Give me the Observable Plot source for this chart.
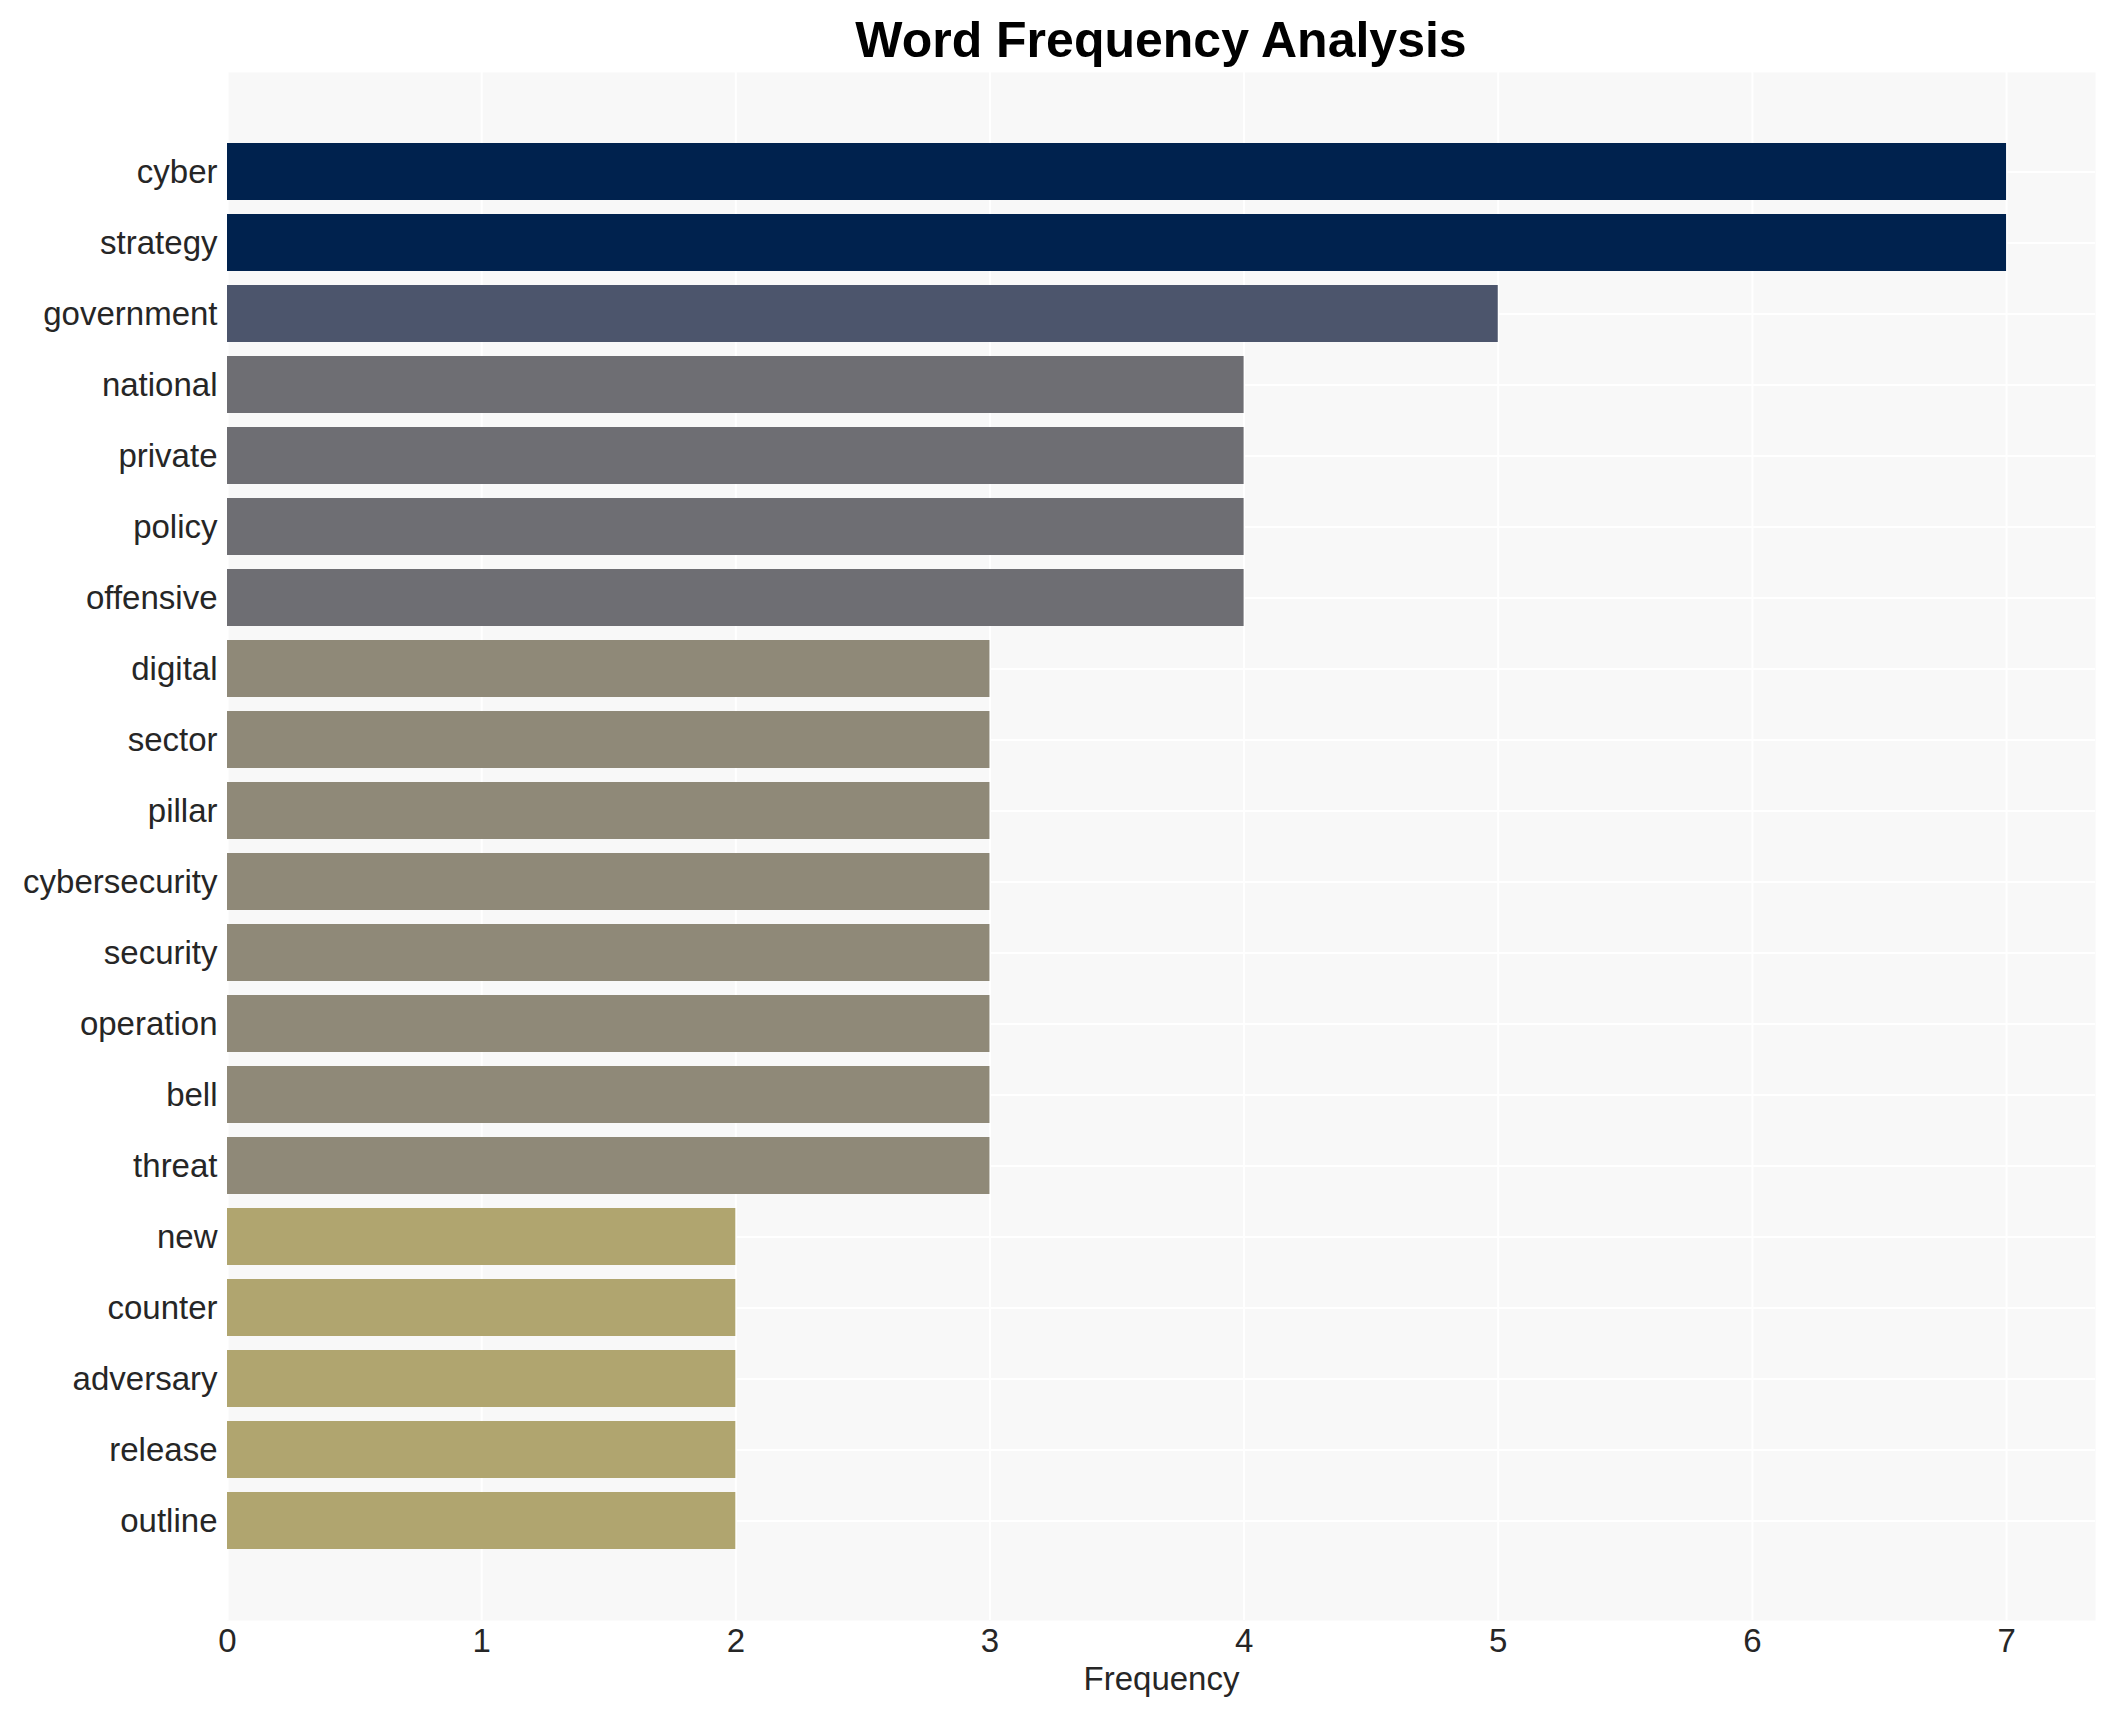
<!DOCTYPE html>
<html>
<head>
<meta charset="utf-8">
<script src="https://cdn.jsdelivr.net/npm/d3@7"></script>
<script src="https://cdn.jsdelivr.net/npm/@observablehq/plot@0.6"></script>
<style>
  html, body { margin: 0; padding: 0; background: white; }
  #title {
    height: 72px; line-height: 80px; box-sizing: border-box;
    padding-left: 227px; padding-right: 10px; text-align: center;
    font-family: "Liberation Sans", Arial, sans-serif; font-weight: bold;
    font-size: 50px; color: #000; white-space: nowrap; overflow: visible;
  }
  #chart svg { display: block; }
</style>
</head>
<body>
<div id="title">Word Frequency Analysis</div>
<div id="chart"></div>
<script>
const words = ["cyber","strategy","government","national","private","policy","offensive","digital","sector","pillar","cybersecurity","security","operation","bell","threat","new","counter","adversary","release","outline"];
const counts = [7,7,5,4,4,4,4,3,3,3,3,3,3,3,3,2,2,2,2,2];
const xTicks = [0,1,2,3,4,5,6,7];
const levels = [7,5,4,3,2];
const palette = ["#00224e","#4c556c","#6e6e73","#8f8978","#b0a56f"];

const data = words.map((w, i) => ({word: w, count: counts[i]}));

const chart = Plot.plot({
  width: 2105,
  height: 1638,
  marginTop: 0,
  marginBottom: 90,
  marginLeft: 227,
  marginRight: 10,
  style: {fontSize: "33px", fontFamily: "'Liberation Sans', Arial, sans-serif", color: "#262626", background: "white"},
  x: {domain: [0, 7.35], ticks: xTicks, tickSize: 0, tickPadding: 8, label: "Frequency", labelAnchor: "center", labelArrow: "none", labelOffset: 69},
  y: {domain: words, paddingInner: 0.2, paddingOuter: 0.99, tickSize: 0, tickPadding: 10, label: null},
  color: {type: "ordinal", domain: levels, range: palette},
  marks: [
    Plot.frame({fill: "#f8f8f8", stroke: null}),
    Plot.ruleX(xTicks, {stroke: "white", strokeWidth: 2}),
    Plot.ruleY(words, {stroke: "white", strokeWidth: 2}),
    Plot.barX(data, {y: "word", x: "count", fill: "count"})
  ]
});
document.getElementById("chart").appendChild(chart);
</script>
</body>
</html>
